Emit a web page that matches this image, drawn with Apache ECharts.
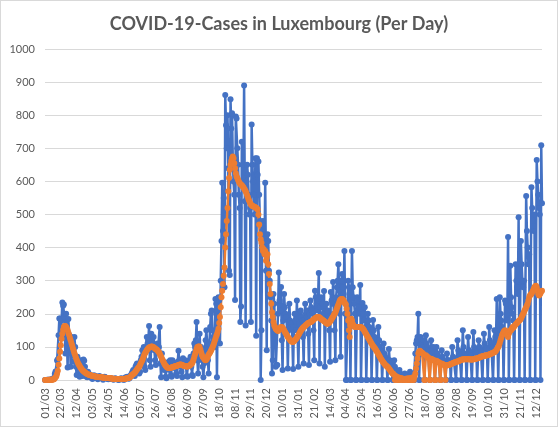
<!DOCTYPE html>
<html>
<head>
<meta charset="utf-8">
<script src="https://cdn.jsdelivr.net/npm/echarts@6/dist/echarts.min.js"></script>
<style>
html,body{margin:0;padding:0;background:#fff;}
#wrap{width:558px;height:427px;box-sizing:border-box;border:1px solid #d9d9d9;position:relative;}
#chart{position:absolute;left:-1px;top:-1px;width:558px;height:427px;}
</style>
</head>
<body>
<div id="wrap"><div id="chart"></div></div>
<script>
// Daily new cases (blue), one row per week (Sun..Sat), starting 01/03/2020
const dailyCases = [
0,0,0,1,1,1,0,
0,2,2,2,3,7,19,
26,22,59,63,135,186,186,
128,180,234,224,228,190,80,
200,130,38,184,137,120,40,
130,110,90,55,130,100,40,
15,70,60,30,10,60,50,
20,12,62,58,40,15,10,
8,25,20,12,15,10,5,
3,10,14,8,12,10,6,
2,7,12,9,10,8,5,
1,6,10,8,7,6,3,
2,5,4,6,3,4,2,
1,3,5,4,3,2,1,
0,3,4,5,2,4,1,
1,5,8,6,10,9,4,
5,12,15,20,25,30,15,
12,40,45,50,35,48,20,
25,60,70,90,75,100,40,
30,100,130,110,120,163,60,
40,140,120,100,130,90,60,
45,90,110,95,100,160,50,
8,80,60,40,30,45,10,
5,50,40,55,30,60,15,
10,60,50,40,45,35,20,
12,55,88,60,50,40,25,
8,66,50,45,60,40,12,
10,50,60,55,70,40,15,
12,80,110,100,120,175,60,
20,60,140,90,100,70,40,
8,50,90,120,150,110,60,
20,110,160,200,210,150,130,
120,100,245,230,8,210,250,
240,110,300,420,596,450,550,
280,861,770,700,800,640,330,
317,848,760,806,665,600,560,
242,796,790,700,650,560,520,
175,222,720,650,600,890,540,
165,600,650,620,560,500,520,
175,772,650,600,560,500,670,
134,670,620,660,560,480,0,
150,450,480,420,380,596,330,
90,440,420,330,300,250,180,
20,60,260,230,150,40,45,
45,200,325,240,210,281,120,
30,180,260,220,200,190,150,
35,150,230,180,170,160,120,
33,160,200,180,150,240,130,
40,170,200,210,190,180,130,
50,180,230,200,190,210,140,
45,200,240,220,210,200,150,
60,270,250,230,210,240,323,
50,220,250,240,230,200,269,
40,180,230,200,210,190,150,
55,266,240,230,296,200,150,
60,250,280,300,350,270,200,
70,300,320,280,260,390,200,
0,0,150,300,280,250,0,
0,390,280,250,230,200,0,
0,250,240,220,200,287,0,
0,233,200,180,220,160,0,
0,200,180,160,150,140,0,
0,181,150,130,120,110,0,
0,160,120,100,90,80,0,
0,110,80,70,60,50,0,
0,94,60,50,40,35,0,
0,60,40,30,25,20,0,
0,30,20,15,12,10,0,
0,20,12,10,15,8,0,
0,25,15,20,10,12,0,
0,80,110,120,130,200,0,
0,130,120,110,100,120,0,
0,135,110,100,90,85,0,
0,120,90,80,100,70,0,
0,100,80,70,60,65,0,
0,90,70,60,55,50,0,
0,80,60,50,55,60,0,
0,100,70,60,55,65,0,
0,120,90,80,70,75,0,
0,150,100,80,75,70,0,
0,130,90,85,80,75,0,
0,145,100,90,85,80,0,
0,120,100,95,90,85,0,
0,140,110,100,95,90,0,
0,160,120,110,100,95,0,
0,150,130,120,245,110,0,
0,250,200,180,160,150,0,
0,240,230,200,180,432,0,
0,345,250,220,200,180,0,
0,350,300,280,260,492,0,
0,420,350,300,280,300,0,
0,556,450,400,350,380,0,
0,582,520,480,450,500,0,
0,665,600,560,520,500,0,
709,534
];

// Smoothed average (orange)
const averageCases = [
0,0,0,0,0,1,1,
1,1,1,1,2,2,5,
8,11,19,28,46,65,85,
105,125,140,152,160,163,163,
160,156,150,143,136,128,120,
112,104,96,88,81,74,67,
61,55,50,46,42,38,35,
32,29,27,25,23,21,20,
18,17,16,15,14,14,13,
12,12,11,11,10,10,10,
9,9,9,8,8,8,8,
7,7,7,7,6,6,6,
6,5,5,5,5,4,4,
4,4,3,3,3,3,3,
3,3,3,3,3,3,3,
3,4,4,5,5,6,6,
7,9,11,14,16,18,20,
22,25,29,32,35,38,40,
45,50,55,60,66,72,78,
82,86,90,93,96,98,99,
100,101,101,100,99,97,95,
93,92,90,87,84,80,75,
70,65,60,55,50,46,43,
40,38,37,36,36,36,37,
38,39,40,40,41,42,42,
43,44,45,46,47,47,46,
45,44,43,42,42,41,41,
41,42,43,44,46,48,50,
55,62,70,78,86,94,100,
100,102,100,92,84,76,70,
68,64,61,60,62,66,71,
76,80,84,88,93,98,104,
110,118,125,132,138,146,155,
172,190,220,250,270,290,315,
340,400,440,480,520,570,610,
635,650,662,670,675,670,655,
640,625,615,610,605,600,595,
592,590,588,585,582,578,575,
570,565,558,552,545,540,535,
530,528,526,525,524,523,522,
520,518,515,500,470,440,425,
415,400,390,395,380,390,360,
370,380,350,320,290,260,230,
205,190,175,165,160,155,152,
150,148,150,155,158,160,160,
158,155,150,146,142,138,134,
130,127,124,121,118,116,115,
115,117,119,122,125,128,132,
136,140,144,148,152,155,158,
160,162,164,166,168,170,172,
173,174,175,176,178,180,182,
184,186,188,189,190,190,190,
189,187,185,183,181,180,178,
176,174,172,170,170,172,174,
177,180,184,188,192,196,200,
204,210,216,222,228,234,240,
243,245,245,243,240,235,230,
228,215,200,180,150,130,165,
185,180,170,165,162,160,160,
160,160,160,160,160,160,160,
158,156,153,150,146,142,138,
134,130,126,122,118,114,110,
106,103,100,97,94,90,86,
82,78,74,70,66,62,58,
55,52,49,46,44,42,40,
38,35,32,28,25,22,20,
18,15,0,12,10,0,8,
0,7,6,0,5,4,0,
3,0,4,3,0,5,0,
4,5,0,6,0,8,0,
10,20,35,50,65,80,85,
88,86,84,82,80,78,0,
0,75,72,70,68,66,0,
0,64,62,62,60,60,0,
0,58,56,55,54,52,0,
0,50,48,47,46,45,0,
44,44,45,45,46,47,48,
49,50,51,52,53,54,55,
55,56,57,58,59,60,61,
62,62,63,63,63,63,63,
63,63,63,63,62,62,62,
62,63,63,64,64,65,66,
66,67,68,69,70,71,72,
72,73,73,74,74,75,75,
76,77,78,79,80,81,82,
83,84,86,88,92,96,100,
105,112,120,128,135,140,145,
148,150,146,140,135,130,140,
145,150,150,155,160,158,162,
165,168,170,172,175,178,180,
182,185,190,195,200,205,210,
215,220,225,230,240,250,255,
258,260,265,270,275,280,283,
285,280,270,260,255,258,262,
268,270
];

// Category labels: one per day from 01/03/2020 (dd/mm)
const startDate = Date.UTC(2020, 2, 1);
const dayLabels = [];
for (let i = 0; i < dailyCases.length; i++) {
  const d = new Date(startDate + i * 86400000);
  dayLabels.push(String(d.getUTCDate()).padStart(2,'0') + '/' + String(d.getUTCMonth()+1).padStart(2,'0'));
}

const chart = echarts.init(document.getElementById('chart'), null, {renderer:'canvas'});
chart.setOption({
  animation: false,
  backgroundColor: 'transparent',
  title: {
    text: 'COVID-19-Cases in Luxembourg (Per Day)',
    left: 'center',
    top: 10,
    textStyle: {fontFamily: 'Lato', fontWeight: 'bold', fontSize: 18, color: '#595959'}
  },
  grid: {left: 45, right: 16, top: 49, bottom: 47, containLabel: false},
  xAxis: {
    type: 'category',
    data: dayLabels,
    boundaryGap: false,
    axisTick: {show: false},
    axisLine: {lineStyle: {color: '#d9d9d9', width: 1}},
    axisLabel: {interval: 20, rotate: 90, color: '#595959', fontFamily: 'Lato', fontSize: 11, margin: 8}
  },
  yAxis: {
    type: 'value',
    min: 0, max: 1000, interval: 100,
    axisLine: {show: false},
    axisTick: {show: false},
    splitLine: {lineStyle: {color: '#d9d9d9', width: 1}},
    axisLabel: {color: '#595959', fontFamily: 'Lato', fontSize: 11, margin: 10, formatter: function (v) { return String(v); }}
  },
  series: [
    {
      name: 'Daily',
      type: 'line',
      data: dailyCases,
      symbol: 'circle',
      symbolSize: 6,
      showAllSymbol: true,
      lineStyle: {color: '#4472c4', width: 2.5},
      itemStyle: {color: '#4472c4'}
    },
    {
      name: 'Average',
      type: 'line',
      data: averageCases,
      symbol: 'circle',
      symbolSize: 6,
      showAllSymbol: true,
      lineStyle: {color: '#ed7d31', width: 2.5},
      itemStyle: {color: '#ed7d31'}
    }
  ]
});
</script>
</body>
</html>
